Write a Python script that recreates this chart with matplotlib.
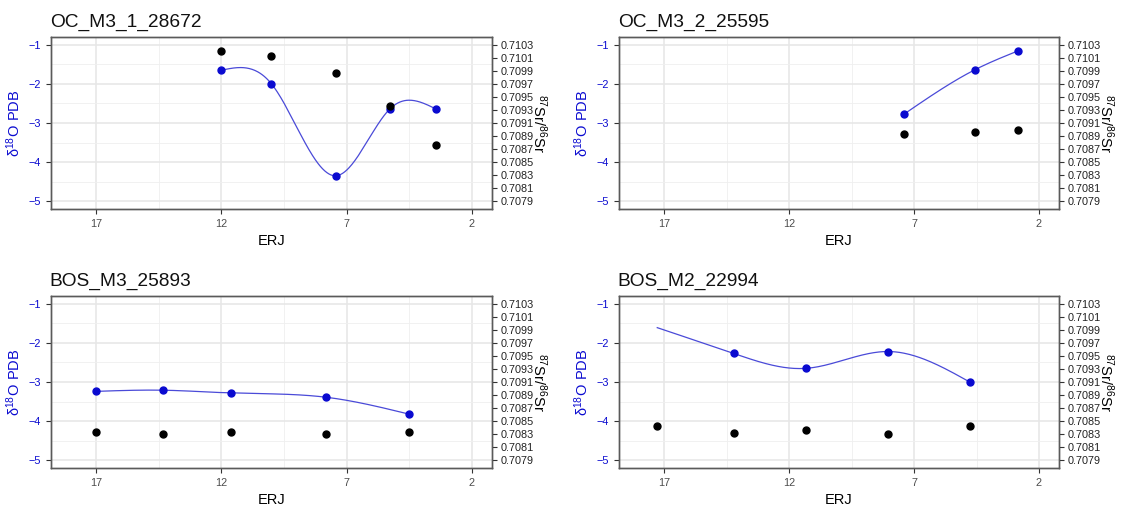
import numpy as np
import matplotlib.pyplot as plt

plt.rcParams['font.family'] = ['Liberation Sans', 'DejaVu Sans']

# sample positions (ERJ), d18O (left axis) and 87Sr/86Sr (right axis)
titles = ["OC_M3_1_28672", "OC_M3_2_25595", "BOS_M3_25893", "BOS_M2_22994"]

oc1_erj = [12.0, 10.0, 7.44, 5.26, 3.44]
oc1_d18o = [-1.65, -2.0, -4.35, -2.63, -2.64]
oc1_sr = [0.71021, 0.71013, 0.70986, 0.70936, 0.70877]

oc2_erj = [7.39, 4.57, 2.86]
oc2_d18o = [-2.77, -1.64, -1.16]
oc2_sr = [0.70893, 0.70896, 0.70900]

bos3_erj = [17.0, 14.32, 11.63, 7.82, 4.52]
bos3_d18o = [-3.24, -3.21, -3.28, -3.39, -3.82]
bos3_sr = [0.70834, 0.70830, 0.70833, 0.70830, 0.70834]

bos2_erj = [17.27, 14.21, 11.31, 8.04, 4.77]
# first d18O value only shows as the start of the line, no point drawn there
bos2_d18o = [-1.61, -2.27, -2.65, -2.22, -3.0]
bos2_sr = [0.70842, 0.70832, 0.70837, 0.70830, 0.70842]

panels = [
    (oc1_erj, oc1_d18o, oc1_sr, 0),
    (oc2_erj, oc2_d18o, oc2_sr, 0),
    (bos3_erj, bos3_d18o, bos3_sr, 0),
    (bos2_erj, bos2_d18o, bos2_sr, 1),
]

# axes boxes in pixels: left, top, right, bottom
boxes = [(51, 37, 492, 209), (619, 37, 1059, 209),
         (51, 296, 492, 468), (619, 296, 1059, 468)]

W, H = 1128, 507
blue = "#0a0ad0"
line_blue = "#4a4ad8"
border = "#5a5a5a"


def natural_spline(x, y, n=300):
    x = np.asarray(x, float)
    y = np.asarray(y, float)
    order = np.argsort(x)
    x, y = x[order], y[order]
    k = len(x)
    h = np.diff(x)
    A = np.zeros((k, k))
    r = np.zeros(k)
    A[0, 0] = 1
    A[-1, -1] = 1
    for i in range(1, k - 1):
        A[i, i - 1] = h[i - 1]
        A[i, i] = 2 * (h[i - 1] + h[i])
        A[i, i + 1] = h[i]
        r[i] = 6 * ((y[i + 1] - y[i]) / h[i] - (y[i] - y[i - 1]) / h[i - 1])
    M = np.linalg.solve(A, r)
    xs = np.linspace(x[0], x[-1], n)
    ys = np.empty_like(xs)
    for j, xv in enumerate(xs):
        i = min(np.searchsorted(x, xv) - 1, k - 2)
        i = max(i, 0)
        t1 = x[i + 1] - xv
        t0 = xv - x[i]
        ys[j] = (M[i] * t1**3 + M[i + 1] * t0**3) / (6 * h[i]) \
            + (y[i] / h[i] - M[i] * h[i] / 6) * t1 \
            + (y[i + 1] / h[i] - M[i + 1] * h[i] / 6) * t0
    return xs, ys


def to_sr(d):
    return 0.7079 + (d + 5) * 0.0006


fig = plt.figure(figsize=(W / 100, H / 100), dpi=100)

for (erj, d18o, sr, skip), title, (l, t, r, b) in zip(panels, titles, boxes):
    ax = fig.add_axes([l / W, 1 - b / H, (r - l) / W, (b - t) / H])
    ax.set_xlim(18.8, 1.2)
    ax.set_ylim(-5.2, -0.8)
    ax.set_xticks([17, 12, 7, 2])
    ax.set_xticks([14.5, 9.5, 4.5], minor=True)
    ax.set_yticks([-1, -2, -3, -4, -5])
    ax.set_yticks([-1.5, -2.5, -3.5, -4.5], minor=True)
    ax.grid(True, which='major', color='#e6e6e6', lw=1.1)
    ax.grid(True, which='minor', color='#efefef', lw=0.6)
    ax.set_axisbelow(True)
    for s in ax.spines.values():
        s.set_color(border)
        s.set_linewidth(1.0)
    ax.tick_params(which='minor', length=0)
    ax.tick_params(axis='x', length=3.6, color='#333333', labelsize=7.8,
                   labelcolor='#4d4d4d', pad=3.5)
    ax.tick_params(axis='y', length=3.6, color='#333333', labelsize=7.8,
                   labelcolor=blue, pad=3.5)
    ax.set_yticklabels(["\u22121", "\u22122", "\u22123", "\u22124", "\u22125"])

    xs, ys = natural_spline(erj, d18o)
    ax.plot(xs, ys, color=line_blue, lw=0.9, zorder=3)
    ax.plot(erj[skip:], d18o[skip:], 'o', color=blue, ms=5, zorder=4)

    ax.set_xlabel("ERJ", fontsize=10.5, labelpad=4)
    ax.set_ylabel(r"$\mathregular{\delta^{18}O\ PDB}$", color=blue, fontsize=10.5,
                  labelpad=4)
    ax.set_title(title, loc='left', fontsize=13.8, pad=7.5, x=-0.003,
                 color='#111111')

    ax2 = ax.twinx()
    ax2.set_ylim(to_sr(-5.2), to_sr(-0.8))
    sr_ticks = [0.7079 + 0.0002 * i for i in range(13)]
    ax2.set_yticks(sr_ticks)
    ax2.set_yticklabels(["%.4f" % v for v in sr_ticks])
    ax2.tick_params(axis='y', length=3.6, color='#333333', labelsize=7.8,
                    labelcolor='#222222', pad=2.5)
    for s in ax2.spines.values():
        s.set_color(border)
        s.set_linewidth(1.0)
    ax2.plot(erj, sr, 'o', color='black', ms=5, zorder=5)
    ax2.set_ylabel(r"$\mathregular{^{87}Sr/^{86}Sr}$", rotation=270,
                   fontsize=10.5, labelpad=11)

fig.savefig("out.png", dpi=100)
